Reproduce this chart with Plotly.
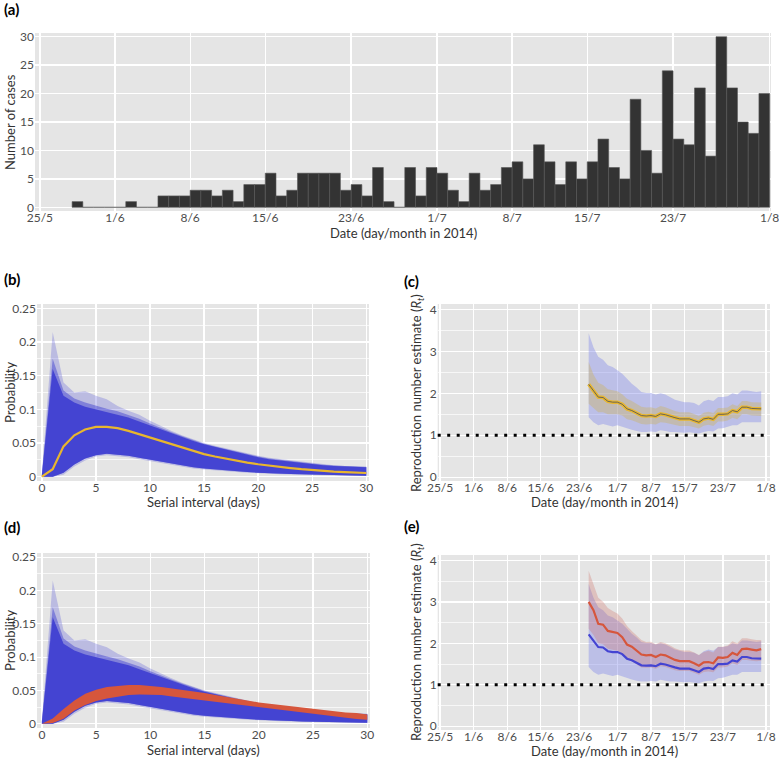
import pandas as pd
import plotly.graph_objects as go

# ---------------- data ----------------
case_start = "2014-05-28"
cases = [1, 0, 0, 0,
         0, 1, 0, 0, 2, 2, 2, 3, 3, 2, 3, 1, 4, 4, 6, 2, 3, 6, 6, 6, 6, 3, 4, 2, 7, 1, 0, 7, 2, 7,
         6, 3, 1, 6, 3, 4, 7, 8, 5, 11, 8, 4, 8, 5, 8, 12, 7, 5, 19, 10, 6, 24, 12, 11, 21, 9, 30, 21, 15, 13, 20]

date_ticks = ["2014-05-25", "2014-06-01", "2014-06-08", "2014-06-15", "2014-06-23",
              "2014-07-01", "2014-07-08", "2014-07-15", "2014-07-23", "2014-08-01"]
date_labels = ["25/5", "1/6", "8/6", "15/6", "23/6", "1/7", "8/7", "15/7", "23/7", "1/8"]

si_days = list(range(31))
si_mean = [0, 0.011, 0.045, 0.0615, 0.07, 0.074, 0.074, 0.072, 0.068, 0.063, 0.0575, 0.0525, 0.0475,
           0.043, 0.038, 0.0335, 0.030, 0.0268, 0.0238, 0.021, 0.0185, 0.0163, 0.0145, 0.0128, 0.0112,
           0.0097, 0.0085, 0.0075, 0.0067, 0.006, 0.0055]
si_outer_hi = [0.005, 0.215, 0.14, 0.125, 0.127, 0.12, 0.115, 0.105, 0.098, 0.092, 0.083, 0.075, 0.068,
               0.061, 0.055, 0.05, 0.046, 0.042, 0.038, 0.034, 0.031, 0.028, 0.026, 0.024, 0.022,
               0.02, 0.0185, 0.017, 0.016, 0.0155, 0.015]
si_mid_hi = [0.004, 0.175, 0.128, 0.116, 0.11, 0.105, 0.101, 0.097, 0.092, 0.086, 0.079, 0.072, 0.066,
             0.06, 0.054, 0.049, 0.045, 0.041, 0.037, 0.033, 0.030, 0.027, 0.025, 0.023, 0.021,
             0.019, 0.0178, 0.0165, 0.0155, 0.015, 0.0145]
si_dense_hi = [0.003, 0.16, 0.12, 0.11, 0.104, 0.1, 0.097, 0.093, 0.088, 0.082, 0.076, 0.07, 0.064,
               0.058, 0.053, 0.048, 0.044, 0.04, 0.036, 0.032, 0.029, 0.026, 0.024, 0.022, 0.02,
               0.0185, 0.017, 0.016, 0.015, 0.0145, 0.014]
si_dense_lo = [0, 0, 0.006, 0.018, 0.027, 0.032, 0.034, 0.033, 0.031, 0.028, 0.025, 0.022, 0.019,
               0.016, 0.014, 0.012, 0.0105, 0.009, 0.008, 0.007, 0.006, 0.005, 0.0045, 0.004, 0.0035,
               0.003, 0.0025, 0.0022, 0.002, 0.0018, 0.0015]
si_outer_lo = [0, 0, 0.003, 0.015, 0.024, 0.03, 0.032, 0.031, 0.029, 0.026, 0.023, 0.02, 0.017,
               0.014, 0.012, 0.0105, 0.009, 0.008, 0.007, 0.006, 0.005, 0.0043, 0.0038, 0.0033, 0.0029,
               0.0025, 0.0021, 0.0018, 0.0016, 0.0014, 0.0012]
si_red_hi = [0, 0.008, 0.022, 0.035, 0.045, 0.051, 0.055, 0.057, 0.058, 0.058, 0.057, 0.055, 0.053,
             0.051, 0.048, 0.046, 0.043, 0.040, 0.037, 0.035, 0.032, 0.030, 0.028, 0.026, 0.024,
             0.022, 0.020, 0.018, 0.017, 0.016, 0.014]
si_red_lo = [0, 0.001, 0.0075, 0.02, 0.028, 0.034, 0.038, 0.041, 0.043, 0.044, 0.044, 0.043, 0.041,
             0.039, 0.037, 0.035, 0.033, 0.031, 0.029, 0.026, 0.024, 0.022, 0.020, 0.018, 0.016,
             0.015, 0.013, 0.011, 0.009, 0.007, 0.006]

r_start = "2014-06-25"
r_mean = [2.215, 2.06, 1.91, 1.90, 1.81, 1.79, 1.79, 1.74, 1.63, 1.59, 1.53, 1.47, 1.46, 1.47, 1.45,
          1.51, 1.49, 1.45, 1.42, 1.39, 1.39, 1.39, 1.35, 1.31, 1.39, 1.41, 1.38, 1.50, 1.50, 1.51,
          1.59, 1.56, 1.67, 1.67, 1.64, 1.63, 1.63]
r_unc_hi = [3.43, 3.1, 2.87, 2.8, 2.67, 2.63, 2.55, 2.47, 2.35, 2.23, 2.14, 2.03, 2.01, 2.01, 1.97,
            2.0, 1.97, 1.91, 1.85, 1.82, 1.79, 1.79, 1.77, 1.71, 1.81, 1.85, 1.82, 1.91, 1.91, 1.93,
            2.0, 1.97, 2.07, 2.07, 2.05, 2.03, 2.05]
r_unc_lo = [1.43, 1.31, 1.24, 1.27, 1.24, 1.21, 1.24, 1.2, 1.16, 1.13, 1.1, 1.08, 1.08, 1.09, 1.08,
            1.12, 1.1, 1.08, 1.08, 1.07, 1.06, 1.07, 1.05, 1.04, 1.08, 1.1, 1.09, 1.16, 1.17, 1.2,
            1.24, 1.24, 1.31, 1.31, 1.31, 1.3, 1.31]
r_fix_hi = [2.75, 2.45, 2.25, 2.2, 2.1, 2.08, 2.05, 1.98, 1.87, 1.82, 1.75, 1.68, 1.66, 1.67, 1.64,
            1.7, 1.67, 1.62, 1.58, 1.55, 1.55, 1.55, 1.51, 1.46, 1.54, 1.56, 1.53, 1.65, 1.65, 1.66,
            1.74, 1.7, 1.82, 1.82, 1.79, 1.78, 1.78]
r_fix_lo = [1.75, 1.65, 1.55, 1.55, 1.5, 1.5, 1.5, 1.47, 1.38, 1.36, 1.31, 1.27, 1.26, 1.27, 1.26,
            1.31, 1.3, 1.27, 1.24, 1.22, 1.22, 1.22, 1.19, 1.16, 1.23, 1.25, 1.22, 1.33, 1.33, 1.35,
            1.42, 1.38, 1.5, 1.5, 1.47, 1.47, 1.46]
r_red = [3.0, 2.8, 2.47, 2.45, 2.3, 2.27, 2.25, 2.15, 1.97, 1.92, 1.83, 1.73, 1.71, 1.72, 1.67,
         1.73, 1.71, 1.66, 1.6, 1.57, 1.57, 1.57, 1.52, 1.46, 1.54, 1.55, 1.52, 1.66, 1.65, 1.67,
         1.77, 1.72, 1.86, 1.87, 1.85, 1.83, 1.86]
r_red_hi = [3.75, 3.4, 3.1, 3.0, 2.85, 2.78, 2.72, 2.6, 2.42, 2.3, 2.2, 2.08, 2.03, 2.04, 1.98,
            2.03, 2.0, 1.95, 1.88, 1.84, 1.83, 1.83, 1.78, 1.72, 1.79, 1.82, 1.78, 1.92, 1.92, 1.95,
            2.05, 2.0, 2.12, 2.12, 2.1, 2.08, 2.08]
r_red_lo = [2.35, 2.2, 2.0, 1.98, 1.87, 1.85, 1.82, 1.75, 1.62, 1.57, 1.5, 1.42, 1.41, 1.42, 1.39,
            1.45, 1.43, 1.39, 1.35, 1.33, 1.33, 1.33, 1.29, 1.24, 1.31, 1.32, 1.3, 1.42, 1.42, 1.44,
            1.52, 1.48, 1.6, 1.6, 1.58, 1.57, 1.58]

# ---------------- styling ----------------
W, H = 779, 759
FONT = "Lato, 'Open Sans', sans-serif"
BG = "#e5e5e5"
BLUE = "#4444d2"
YELLOW = "#e8b62e"
RED = "#d6563c"
TICKFONT = dict(family=FONT, size=12, color="#4d4d4d")


def px_x(p):
    return p / W


def px_y(p):
    return 1 - p / H


fig = go.Figure()

case_dates = pd.date_range(case_start, periods=len(cases), freq="D") + pd.Timedelta(hours=12)
r_dates = pd.date_range(r_start, periods=len(r_mean), freq="D")

# (a) histogram
fig.add_trace(go.Bar(x=case_dates, y=cases, width=86400000, marker=dict(color="#333333",
                     line=dict(color="#575757", width=0.6)), xaxis="x", yaxis="y", showlegend=False))


def band(xs, lo, hi, color, xa, ya):
    fig.add_trace(go.Scatter(x=xs, y=lo, mode="lines", line=dict(width=0), xaxis=xa, yaxis=ya,
                             showlegend=False, hoverinfo="skip"))
    fig.add_trace(go.Scatter(x=xs, y=hi, mode="lines", line=dict(width=0), fill="tonexty",
                             fillcolor=color, xaxis=xa, yaxis=ya, showlegend=False, hoverinfo="skip"))


# (b) and (d) serial interval panels
for xa, ya in (("x2", "y2"), ("x4", "y4")):
    band(si_days, si_outer_lo, si_outer_hi, "rgba(80,80,215,0.28)", xa, ya)
    band(si_days, si_dense_lo, si_mid_hi, "rgba(70,70,210,0.50)", xa, ya)
    band(si_days, si_dense_lo, si_dense_hi, BLUE, xa, ya)

fig.add_trace(go.Scatter(x=si_days, y=si_mean, mode="lines", line=dict(color=YELLOW, width=2.2),
                         xaxis="x2", yaxis="y2", showlegend=False))
band(si_days, si_red_lo, si_red_hi, RED, "x4", "y4")

# (c)
band(r_dates, r_unc_lo, r_unc_hi, "rgba(120,130,235,0.38)", "x3", "y3")
band(r_dates, r_fix_lo, r_fix_hi, "rgba(205,180,90,0.38)", "x3", "y3")
fig.add_trace(go.Scatter(x=r_dates, y=r_mean, mode="lines", line=dict(color=YELLOW, width=3.5),
                         xaxis="x3", yaxis="y3", showlegend=False))
fig.add_trace(go.Scatter(x=r_dates, y=r_mean, mode="lines", line=dict(color="#5a5a5a", width=0.9),
                         xaxis="x3", yaxis="y3", showlegend=False))

# (e)
band(r_dates, r_unc_lo, r_unc_hi, "rgba(120,130,235,0.38)", "x5", "y5")
band(r_dates, r_red_lo, r_red_hi, "rgba(205,110,100,0.30)", "x5", "y5")
fig.add_trace(go.Scatter(x=r_dates, y=r_mean, mode="lines", line=dict(color=BLUE, width=2.2),
                         xaxis="x5", yaxis="y5", showlegend=False))
fig.add_trace(go.Scatter(x=r_dates, y=r_red, mode="lines", line=dict(color=RED, width=2.2),
                         xaxis="x5", yaxis="y5", showlegend=False))

# dotted R = 1 reference lines
for xa, ya in (("x3", "y3"), ("x5", "y5")):
    fig.add_shape(type="line", xref=f"{xa} domain", yref=ya, x0=0, x1=1, y0=1, y1=1,
                  line=dict(color="black", width=3, dash="3px,6.5px"))


def grid_axis(**kw):
    d = dict(showgrid=True, gridcolor="white", gridwidth=1.3, zeroline=False, showline=False,
             ticks="", tickfont=TICKFONT, fixedrange=True, automargin=False,
             ticklabeloverflow="allow")
    d.update(kw)
    return d


def x_axis(**kw):
    return grid_axis(ticklabelstandoff=-2, **kw)


date_range_a = ["2014-05-24 13:00", "2014-08-01 03:00"]
date_range_c = ["2014-05-24 12:00", "2014-08-01 20:00"]
minor_si = dict(showgrid=True, gridcolor="white", gridwidth=0.7, dtick=0.025)
minor_r = dict(showgrid=True, gridcolor="white", gridwidth=0.7, dtick=0.5)

fig.update_layout(
    template="none",
    width=W, height=H, margin=dict(l=0, r=0, t=0, b=0, pad=0),
    paper_bgcolor="white", plot_bgcolor=BG, font=dict(family=FONT, color="#333333"),
    xaxis=x_axis(domain=[px_x(35), px_x(771)], anchor="y", type="date", range=date_range_a,
                 tickvals=date_ticks, ticktext=date_labels),
    yaxis=grid_axis(domain=[px_y(211), px_y(33)], anchor="x", range=[-0.65, 30.65],
                    tickvals=[0, 5, 10, 15, 20, 25, 30]),
    xaxis2=x_axis(domain=[px_x(37), px_x(369)], anchor="y2", range=[-0.45, 30.25],
                  tickvals=[0, 5, 10, 15, 20, 25, 30]),
    yaxis2=grid_axis(domain=[px_y(481), px_y(304)], anchor="x2", range=[-0.0064, 0.2564],
                     tickvals=[0, 0.05, 0.1, 0.15, 0.2, 0.25],
                     ticktext=["0", "0.05", "0.1", "0.15", "0.2", "0.25"], minor=minor_si),
    xaxis3=x_axis(domain=[px_x(437.7), px_x(770)], anchor="y3", type="date", range=date_range_c,
                  tickvals=date_ticks, ticktext=date_labels),
    yaxis3=grid_axis(domain=[px_y(481), px_y(304)], anchor="x3", range=[-0.09, 4.13],
                     tickvals=[0, 1, 2, 3, 4], minor=minor_r),
    xaxis4=x_axis(domain=[px_x(37), px_x(370)], anchor="y4", range=[-0.45, 30.25],
                  tickvals=[0, 5, 10, 15, 20, 25, 30]),
    yaxis4=grid_axis(domain=[px_y(728), px_y(553)], anchor="x4", range=[-0.0064, 0.2564],
                     tickvals=[0, 0.05, 0.1, 0.15, 0.2, 0.25],
                     ticktext=["0", "0.05", "0.1", "0.15", "0.2", "0.25"], minor=minor_si),
    xaxis5=x_axis(domain=[px_x(437.7), px_x(770)], anchor="y5", type="date", range=date_range_c,
                  tickvals=date_ticks, ticktext=date_labels),
    yaxis5=grid_axis(domain=[px_y(730), px_y(555)], anchor="x5", range=[-0.09, 4.13],
                     tickvals=[0, 1, 2, 3, 4], minor=minor_r),
)

ann = []


def label(text, x, y, size=15, bold=True):
    ann.append(dict(text=f"<b>{text}</b>" if bold else text, x=px_x(x), y=px_y(y), xref="paper",
                    yref="paper", showarrow=False, xanchor="left", yanchor="middle",
                    font=dict(family=FONT, size=size, color="black")))


def title(text, x, y, angle=0):
    ann.append(dict(text=text, x=px_x(x), y=px_y(y), xref="paper", yref="paper", showarrow=False,
                    xanchor="center", yanchor="middle", textangle=angle,
                    font=dict(family=FONT, size=13, color="#333333")))


label("(a)", 2, 9)
label("(b)", 2, 279)
label("(c)", 402, 281)
label("(d)", 2, 527)
label("(e)", 402, 526)

title("Date (day/month in 2014)", 403, 233)
title("Number of cases", 10, 122, -90)
title("Serial interval (days)", 203, 502)
title("Probability", 10, 392, -90)
title("Date (day/month in 2014)", 604, 502)
title("Reproduction number estimate (<i>R<sub>t</sub></i>)", 417, 393, -90)
title("Serial interval (days)", 203, 750)
title("Probability", 10, 640, -90)
title("Date (day/month in 2014)", 604, 751)
title("Reproduction number estimate (<i>R<sub>t</sub></i>)", 417, 642, -90)

fig.update_layout(annotations=ann)
fig.write_html("out.html", config={"staticPlot": True},
               post_script="document.body.style.margin='0px';document.body.style.overflow='hidden';")
